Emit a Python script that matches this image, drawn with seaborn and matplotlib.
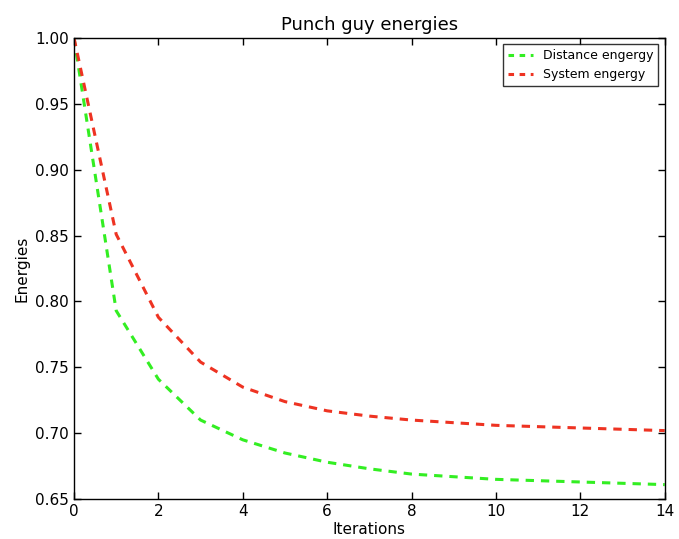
import matplotlib
matplotlib.use("Agg")
import matplotlib.pyplot as plt
import seaborn as sns
import pandas as pd

iterations = list(range(15))
distance_energy = [1.0, 0.793, 0.741, 0.710, 0.695, 0.685, 0.678, 0.673, 0.669, 0.667, 0.665, 0.664, 0.663, 0.662, 0.661]
system_energy = [1.0, 0.851, 0.788, 0.754, 0.735, 0.724, 0.717, 0.713, 0.710, 0.708, 0.706, 0.705, 0.704, 0.703, 0.702]

sns.set_style("white", {"xtick.direction": "in", "ytick.direction": "in",
                        "axes.edgecolor": "black", "xtick.bottom": True, "ytick.left": True,
                        "xtick.top": True, "ytick.right": True,
                        "text.color": "black", "axes.labelcolor": "black",
                        "xtick.color": "black", "ytick.color": "black"})
plt.rcParams['font.family'] = ['DejaVu Sans']
plt.rcParams['lines.scale_dashes'] = False

df = pd.DataFrame({
    "Iterations": iterations * 2,
    "Energies": distance_energy + system_energy,
    "series": ["Distance engergy"] * len(iterations) + ["System engergy"] * len(iterations),
})

fig = plt.figure(figsize=(6.79, 5.39), dpi=100)
ax = fig.add_axes([0.109, 0.074, 0.870, 0.8555])
palette = {"Distance engergy": "#33ee22", "System engergy": "#ee3322"}
sns.lineplot(data=df, x="Iterations", y="Energies", hue="series", palette=palette,
             linewidth=2.2, ax=ax, legend=True)
for line in ax.get_lines():
    line.set_dashes([6, 5])
ax.set_xlim(0, 14)
ax.set_ylim(0.65, 1.0)
ax.set_xticks(range(0, 15, 2))
yt = [0.65, 0.70, 0.75, 0.80, 0.85, 0.90, 0.95, 1.00]
ax.set_yticks(yt)
ax.set_yticklabels([f"{v:.2f}" for v in yt])
ax.tick_params(axis="both", labelsize=11, length=5, width=1, direction="in", top=True, right=True,
               colors="black", labelcolor="black")
for s in ax.spines.values():
    s.set_linewidth(1)
    s.set_color("black")
ax.set_xlabel("Iterations", fontsize=11, labelpad=2, color="black")
ax.set_ylabel("Energies", fontsize=11, labelpad=4, color="black")
ax.set_title("Punch guy energies", fontsize=13, pad=6, color="black")
leg = ax.legend(loc="upper right", fontsize=9, frameon=True, fancybox=False,
                edgecolor="black", handlelength=2.0, borderaxespad=0.5)
leg.get_frame().set_linewidth(1)
for h in leg.get_lines():
    h.set_linewidth(2.2)
    h.set_dashes([4, 4])
for t in leg.get_texts():
    t.set_color("black")
fig.savefig("out.png", dpi=100)
